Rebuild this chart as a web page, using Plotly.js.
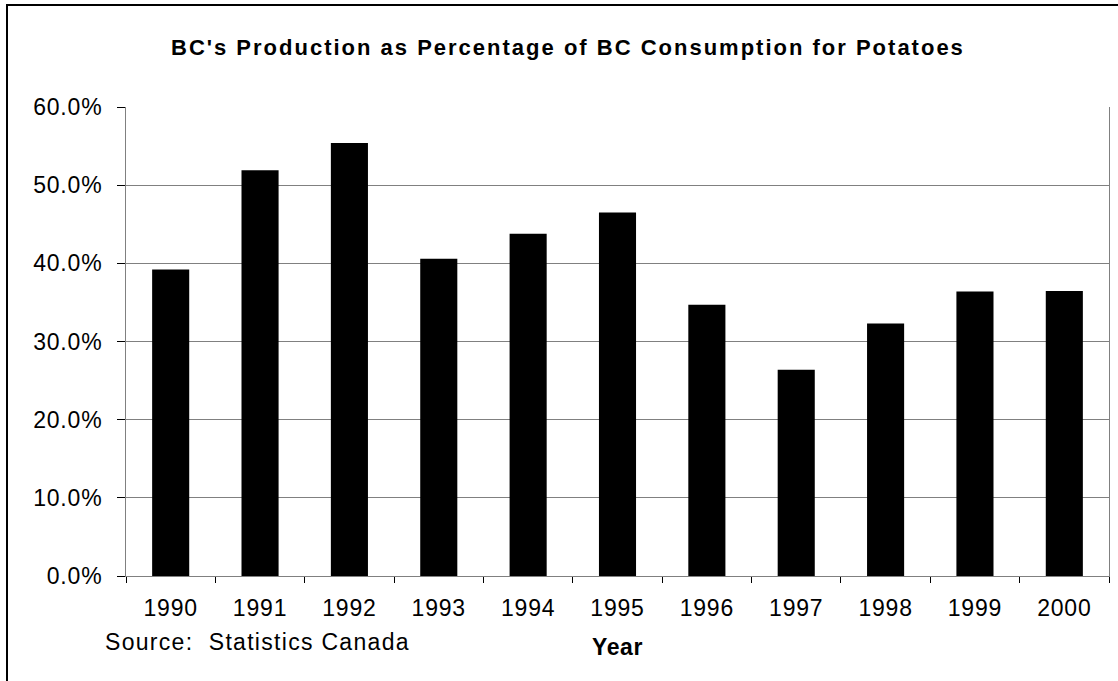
<!DOCTYPE html>
<html>
<head>
<meta charset="utf-8">
<script src="https://cdn.plot.ly/plotly-3.0.1.min.js"></script>
<style>
  html, body { margin: 0; padding: 0; background: #fff; overflow: hidden; }
  #chart { width: 1118px; height: 681px; position: absolute; left: 0; top: 0; }
  #frame { position: absolute; left: 6px; top: 4px; width: 1130px; height: 700px;
           border: 2px solid #000; pointer-events: none; box-sizing: border-box; }
  .xtick text, .ytick text { letter-spacing: 0.8px; }
  .gtitle { letter-spacing: 2px; }
  .xtitle { letter-spacing: 0.6px; }
  .annotation-text { letter-spacing: 1.3px; }
</style>
</head>
<body>
<div id="chart"></div>
<div id="frame"></div>
<script>
const years = ["1990","1991","1992","1993","1994","1995","1996","1997","1998","1999","2000"];
const productionShare = [0.392, 0.519, 0.554, 0.406, 0.438, 0.465, 0.347, 0.264, 0.323, 0.364, 0.3645];
const chartTitle = "BC's Production as Percentage of BC Consumption for Potatoes";
const xTitle = "Year";
const sourceNote = "Source:  Statistics Canada";

const font = "Liberation Sans, Arial, sans-serif";

const trace = {
  type: "bar",
  x: years,
  y: productionShare,
  marker: { color: "#000000", line: { color: "#000000", width: 0 } },
  hoverinfo: "x+y"
};

const layout = {
  width: 1118,
  height: 681,
  paper_bgcolor: "#ffffff",
  plot_bgcolor: "#ffffff",
  margin: { l: 126, r: 9, t: 107, b: 105 },
  bargap: 0.585,
  showlegend: false,
  font: { family: font, color: "#000000", size: 23 },
  title: {
    text: "<b>" + chartTitle + "</b>",
    font: { family: font, size: 22, color: "#000000" },
    x: 0.508, xanchor: "center", xref: "container",
    y: 0.931, yanchor: "middle", yref: "container"
  },
  xaxis: {
    type: "category",
    showgrid: false,
    showline: true,
    linecolor: "#808080",
    linewidth: 1,
    ticks: "outside",
    tickson: "boundaries",
    ticklen: 6,
    tickcolor: "#000000",
    tickfont: { family: font, size: 23, color: "#000000" },
    ticklabelstandoff: 11,
    title: { text: "<b>" + xTitle + "</b>", font: { family: font, size: 23, color: "#000000" }, standoff: 19 }
  },
  yaxis: {
    range: [0, 0.6],
    dtick: 0.1,
    tickformat: ".1%",
    showgrid: true,
    gridcolor: "#808080",
    gridwidth: 1,
    showline: true,
    mirror: true,
    linecolor: "#808080",
    linewidth: 1,
    ticks: "outside",
    ticklen: 8,
    tickcolor: "#000000",
    tickfont: { family: font, size: 23, color: "#000000" },
    ticklabelstandoff: 10,
    zeroline: false
  },
  annotations: [{
    text: sourceNote,
    xref: "paper", yref: "paper",
    x: -0.0234, y: -0.1407,
    xanchor: "left", yanchor: "middle",
    showarrow: false,
    font: { family: font, size: 23, color: "#000000" }
  }]
};

Plotly.newPlot("chart", [trace], layout, { staticPlot: true, displayModeBar: false });
</script>
</body>
</html>
